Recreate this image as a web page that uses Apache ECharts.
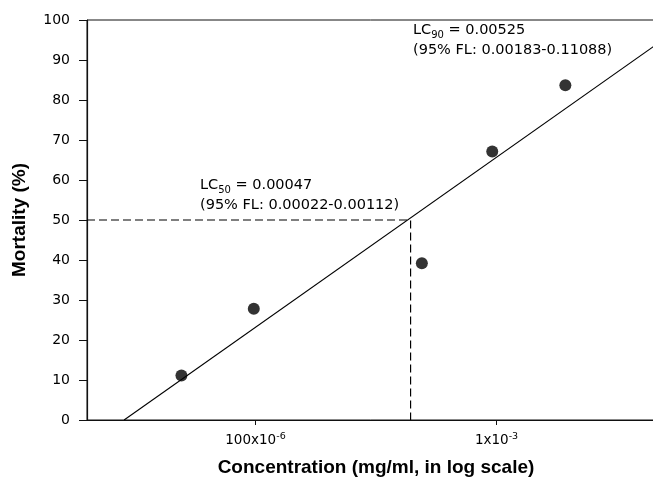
<!DOCTYPE html>
<html>
<head>
<meta charset="utf-8">
<script src="https://cdn.jsdelivr.net/npm/echarts@6/dist/echarts.min.js"></script>
<style>
  html, body { margin: 0; padding: 0; background: #fff; }
  #chart { width: 653px; height: 480px; }
</style>
</head>
<body>
<div id="chart"></div>
<script>
// observed points: concentration (mg/ml) vs mortality (%)
const concentration = [0.0000493, 0.0000984, 0.00049, 0.00096, 0.00193];
const mortality = [11.1, 27.8, 39.2, 67.1, 83.7];

// fitted probit line, read at both ends
const fitConc = [0.0000285, 0.005];
const fitMort = [0, 95.4];

// LC50 guide lines
const lc50Conc = 0.00044;
const lc50Mort = 50;

// x tick labels
const xTickValues = [0.0001, 0.001];
const xTickBase = ['100x10', '1x10'];
const xTickExp = ['-6', '-3'];

const xMin = 0.00002, xMax = 0.005;

const font = 'DejaVu Sans';
const titleFont = 'Liberation Sans';

const chart = echarts.init(document.getElementById('chart'));

const noteRich = {
  m: { fontFamily: font, fontSize: 14.5, fill: '#000', lineHeight: 20 },
  s: { fontFamily: font, fontSize: 10, fill: '#000', verticalAlign: 'bottom', lineHeight: 20 }
};

chart.setOption({
  animation: false,
  backgroundColor: '#fff',
  grid: {
    left: 87, right: -12, top: 20, bottom: 60,
    outerBoundsMode: 'none',
    containLabel: false,
    show: true, borderColor: '#111', borderWidth: 1
  },
  xAxis: {
    type: 'log',
    logBase: 10,
    min: xMin,
    max: xMax,
    name: 'Concentration (mg/ml, in log scale)',
    nameLocation: 'middle',
    nameGap: 38,
    nameTextStyle: { fontFamily: titleFont, fontWeight: 'bold', fontSize: 19, color: '#000' },
    axisLine: { lineStyle: { color: '#111', width: 1.2 } },
    axisTick: { customValues: xTickValues, length: 5, lineStyle: { color: '#111' } },
    splitLine: { show: false },
    minorTick: { show: false },
    axisLabel: {
      customValues: xTickValues,
      margin: 12,
      formatter: function (v) {
        const i = xTickValues.findIndex(t => Math.abs(Math.log10(t) - Math.log10(v)) < 1e-6);
        if (i < 0) return '';
        return '{b|' + xTickBase[i] + '}{s|' + xTickExp[i] + '}';
      },
      rich: {
        b: { fontFamily: font, fontSize: 13.5, color: '#000', lineHeight: 16 },
        s: { fontFamily: font, fontSize: 9.5, color: '#000', verticalAlign: 'top', lineHeight: 16 }
      }
    }
  },
  yAxis: {
    type: 'value',
    min: 0,
    max: 100,
    interval: 10,
    name: 'Mortality (%)',
    nameLocation: 'middle',
    nameGap: 58,
    nameTextStyle: { fontFamily: titleFont, fontWeight: 'bold', fontSize: 19, color: '#000' },
    axisLine: { show: true, lineStyle: { color: '#111', width: 1.2 } },
    axisTick: { show: true, length: 8, lineStyle: { color: '#111' } },
    splitLine: { show: false },
    axisLabel: { fontFamily: font, fontSize: 14, color: '#000', margin: 17 }
  },
  series: [
    {
      type: 'line',
      data: fitConc.map((c, i) => [c, fitMort[i]]),
      symbol: 'none',
      lineStyle: { color: '#000', width: 1.1 },
      z: 2
    },
    {
      type: 'line',
      data: [[xMin, lc50Mort], [lc50Conc, lc50Mort], [lc50Conc, 0]],
      symbol: 'none',
      lineStyle: { color: '#000', width: 1.2, type: [8, 4] },
      z: 1
    },
    {
      type: 'scatter',
      data: concentration.map((c, i) => [c, mortality[i]]),
      symbol: 'circle',
      symbolSize: 12,
      itemStyle: { color: '#000' },
      z: 3
    }
  ],
  graphic: [
    {
      type: 'text',
      left: 200, top: 178,
      style: {
        text: '{m|LC}{s|50}{m| = 0.00047}\n{m|(95% FL: 0.00022-0.00112)}',
        rich: noteRich,
        fill: '#000'
      }
    },
    {
      type: 'text',
      left: 413, top: 23,
      style: {
        text: '{m|LC}{s|90}{m| = 0.00525}\n{m|(95% FL: 0.00183-0.11088)}',
        rich: noteRich,
        fill: '#000'
      }
    }
  ]
});
</script>
</body>
</html>
